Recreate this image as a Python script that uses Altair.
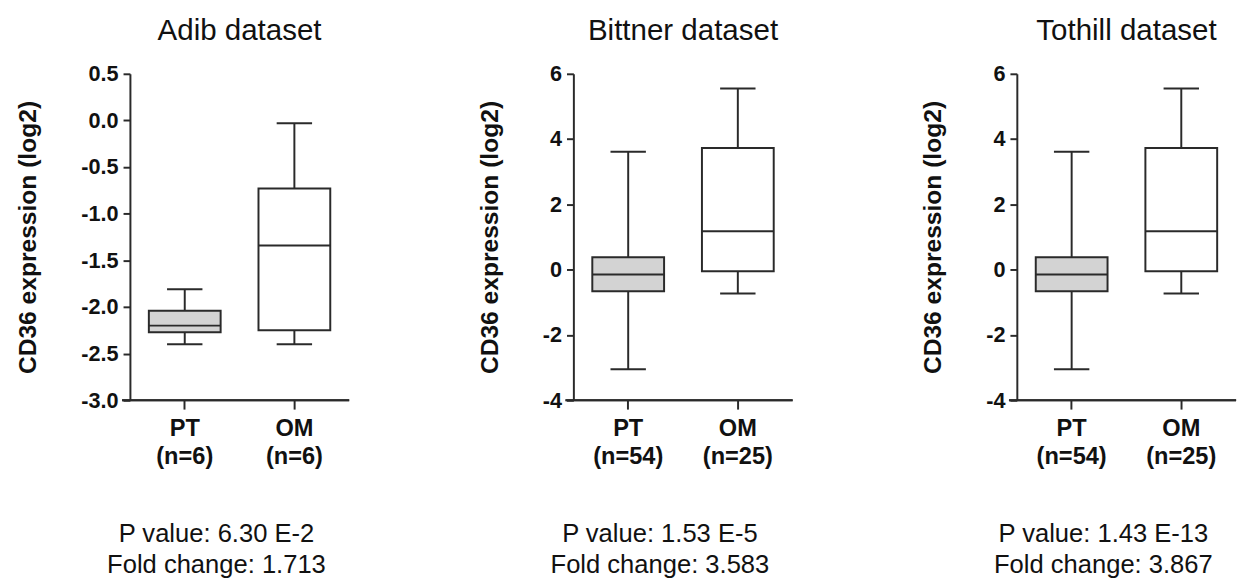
import altair as alt
import pandas as pd

# ---- data ----
datasets = ["Adib dataset", "Bittner dataset", "Tothill dataset"]
groups = ["PT", "OM"]
n_samples = [[6, 6], [54, 25], [54, 25]]
whisker_low = [[-2.40, -2.40], [-3.05, -0.73], [-3.05, -0.73]]
q1 = [[-2.27, -2.25], [-0.66, -0.05], [-0.66, -0.05]]
median = [[-2.20, -1.34], [-0.15, 1.18], [-0.15, 1.18]]
q3 = [[-2.04, -0.73], [0.38, 3.73], [0.38, 3.73]]
whisker_high = [[-1.81, -0.03], [3.61, 5.55], [3.61, 5.55]]
p_values = ["6.30 E-2", "1.53 E-5", "1.43 E-13"]
fold_changes = ["1.713", "3.583", "3.867"]
y_domains = [[-3.0, 0.5], [-4, 6], [-4, 6]]
y_ticks = [[-3.0, -2.5, -2.0, -1.5, -1.0, -0.5, 0.0, 0.5],
           [-4, -2, 0, 2, 4, 6],
           [-4, -2, 0, 2, 4, 6]]
y_formats = [".1f", "d", "d"]
box_fills = ["#d3d3d3", "#ffffff"]

FONT = "Liberation Sans"
LC = "#2a2a2a"
W, H = 223, 332
BOX_W, CAP_W = 73, 36


def panel(i):
    labels = [f"{g}\n(n={n})" for g, n in zip(groups, n_samples[i])]
    df = pd.DataFrame({
        "label": labels,
        "lo": whisker_low[i],
        "q1": q1[i],
        "med": median[i],
        "q3": q3[i],
        "hi": whisker_high[i],
        "fill": box_fills,
    })
    fmt = y_formats[i]
    yscale = alt.Scale(domain=y_domains[i], nice=False, zero=False)
    yaxis = alt.Axis(
        values=y_ticks[i],
        labelExpr=f"datum.value < 0 ? '-' + format(-datum.value, '{fmt}') : format(datum.value, '{fmt}')",
        grid=False, tickSize=7, tickWidth=2, tickColor=LC,
        domainWidth=2, domainColor=LC,
        labelFont=FONT, labelFontSize=22, labelFontWeight="bold", labelColor="#111",
        labelPadding=5,
        titleFont=FONT, titleFontSize=25, titleFontWeight="bold", titleColor="#111",
        titlePadding=41,
    )
    ytitle = "CD36 expression (log2)"

    def Y(field):
        return alt.Y(f"{field}:Q", scale=yscale, axis=yaxis, title=ytitle)

    xaxis = alt.Axis(
        labelExpr="split(datum.label, '\\n')",
        labelAngle=0, labelFont=FONT, labelFontSize=24, labelFontWeight="bold",
        labelColor="#111", labelLineHeight=28, labelPadding=8,
        tickSize=9, tickWidth=2, tickColor=LC, domain=False,
        title=[f"P value: {p_values[i]}", f"Fold change: {fold_changes[i]}"],
        titleFont=FONT, titleFontSize=26, titleFontWeight="normal", titleColor="#111",
        titleLineHeight=31, titleX=W / 2 - 24, titleY=123, titleAlign="center",
        titleBaseline="top", titleAnchor="middle",
    )
    X = alt.X("label:N", sort=labels, scale=alt.Scale(paddingInner=0, paddingOuter=0), axis=xaxis)
    base = alt.Chart(df)

    whisk = base.mark_rule(color=LC, strokeWidth=2).encode(x=X, y=Y("lo"), y2="hi:Q")
    box = base.mark_bar(size=BOX_W, stroke=LC, strokeWidth=2).encode(
        x=X, y=Y("q1"), y2="q3:Q", fill=alt.Fill("fill:N", scale=None))
    med = base.mark_tick(size=BOX_W, thickness=2, color=LC, opacity=1).encode(x=X, y=Y("med"))
    cap_lo = base.mark_tick(size=CAP_W, thickness=2, color=LC, opacity=1).encode(x=X, y=Y("lo"))
    cap_hi = base.mark_tick(size=CAP_W, thickness=2, color=LC, opacity=1).encode(x=X, y=Y("hi"))
    baseline = base.mark_rule(color=LC, strokeWidth=2).encode(
        x=alt.value(-8), x2=alt.value(W), y=alt.value(H))

    return alt.layer(whisk, box, med, cap_lo, cap_hi, baseline).properties(
        width=W, height=H,
        title=alt.Title(datasets[i], font=FONT, fontSize=30, fontWeight="normal",
                        color="#111", frame="group", anchor="middle", offset=17),
    )


chart = alt.hconcat(*[panel(i) for i in range(3)], spacing=129).properties(
    padding={"left": 8, "top": 4, "right": 5, "bottom": 5},
    background="white",
).configure_view(strokeWidth=0, stroke="transparent")

chart.save("out.html", embed_options={"renderer": "svg", "actions": False})
